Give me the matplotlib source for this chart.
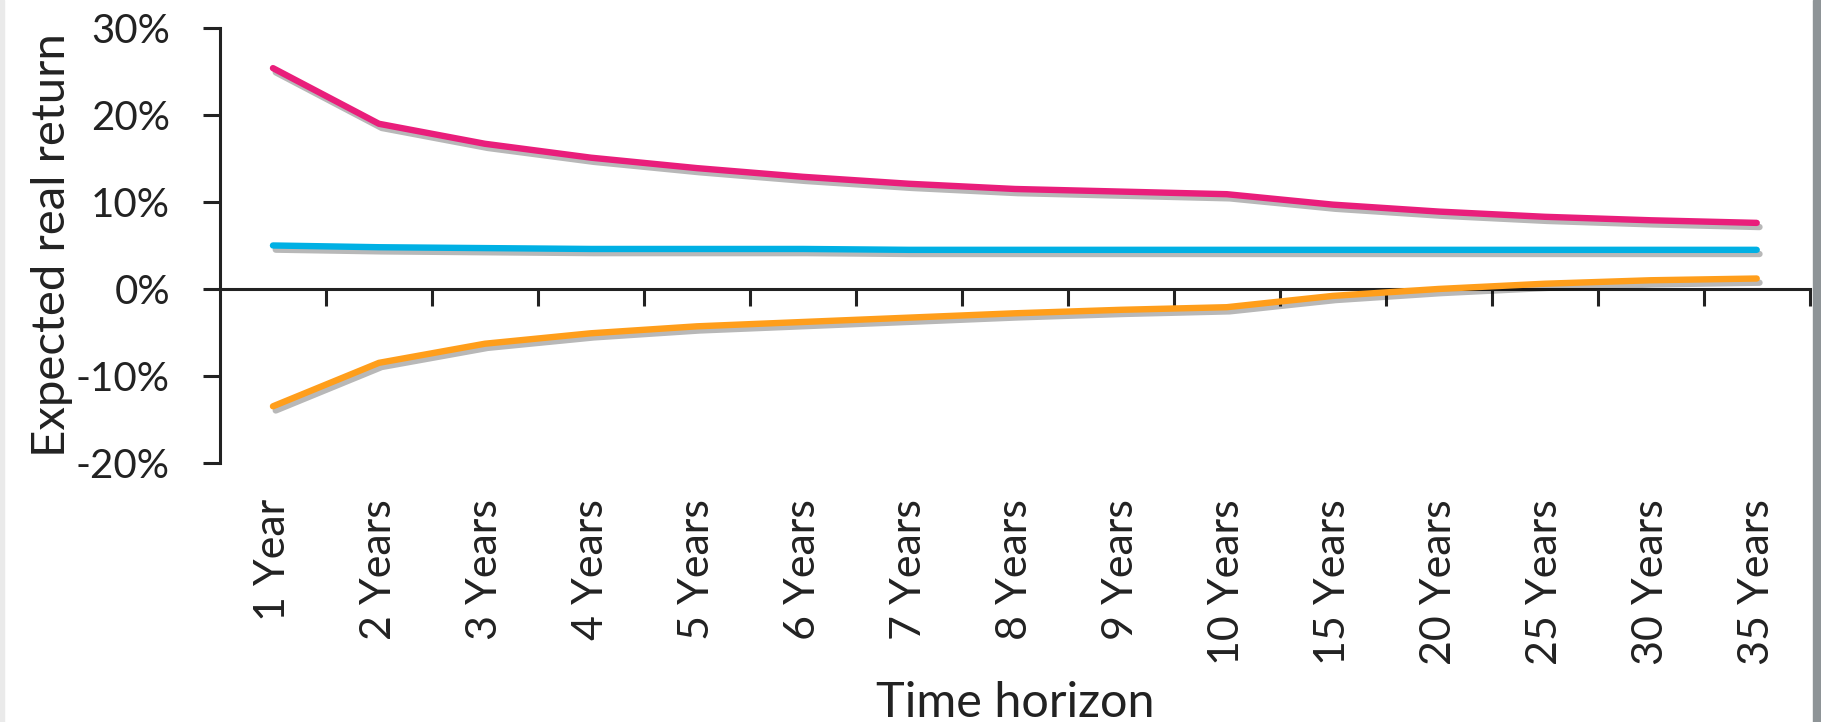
import numpy as np
import matplotlib.pyplot as plt
import matplotlib.patheffects as pe
from matplotlib.patches import Rectangle

plt.rcParams['font.family'] = ['Lato', 'DejaVu Sans']

horizons = ['1 Year', '2 Years', '3 Years', '4 Years', '5 Years', '6 Years', '7 Years',
            '8 Years', '9 Years', '10 Years', '15 Years', '20 Years', '25 Years',
            '30 Years', '35 Years']
upper = [25.4, 19.0, 16.7, 15.1, 13.9, 12.9, 12.1, 11.5, 11.2, 10.9, 9.7, 8.9, 8.3, 7.9, 7.6]
expected = [5.0, 4.8, 4.7, 4.6, 4.6, 4.6, 4.5, 4.5, 4.5, 4.5, 4.5, 4.5, 4.5, 4.5, 4.5]
lower = [-13.5, -8.5, -6.3, -5.1, -4.3, -3.8, -3.3, -2.8, -2.4, -2.1, -0.8, 0.0, 0.6, 1.0, 1.2]
colors = ['#E91E7B', '#00B0E4', '#FF9E1B']

x = np.arange(len(horizons))

fig = plt.figure(figsize=(18.21, 7.22), dpi=100)
ax = fig.add_axes([0.1208, 0.359, 0.873, 0.602])

shadow = [pe.SimpleLineShadow(offset=(2, -3), shadow_color='k', alpha=0.28), pe.Normal()]
for vals, c in zip([upper, expected, lower], colors):
    ax.plot(x, vals, color=c, lw=4.6, solid_capstyle='round', solid_joinstyle='round',
            path_effects=shadow, zorder=3)

ax.set_xlim(-0.5, len(horizons) - 0.5)
ax.set_ylim(-20, 30)
ax.set_yticks(np.arange(-20, 31, 10))
ax.set_yticklabels([f'{v}%' for v in range(-20, 31, 10)])
ax.tick_params(axis='y', direction='out', length=12, width=2.2, pad=24, labelsize=29,
               colors='#222222')

# category axis crosses at zero, tick marks between categories
ax.spines['bottom'].set_position(('data', 0))
ax.spines['top'].set_visible(False)
ax.spines['right'].set_visible(False)
for s in ['bottom', 'left']:
    ax.spines[s].set_linewidth(2.2)
    ax.spines[s].set_color('#222222')
ax.set_xticks(x + 0.5)
ax.tick_params(axis='x', direction='out', length=12, width=2.2, labelbottom=False,
               colors='#222222')

sec = ax.secondary_xaxis('bottom')
sec.set_xticks(x)
sec.set_xticklabels(horizons, rotation=90, fontsize=31, color='#222222')
sec.tick_params(length=0, pad=26)
sec.spines['bottom'].set_visible(False)
sec.set_xlabel('Time horizon', fontsize=35, color='#222222', labelpad=12)

ax.set_ylabel('Expected real return', fontsize=34, color='#222222', labelpad=2)

fig.patches.append(Rectangle((0.9957, 0), 0.0043, 1, transform=fig.transFigure,
                             color='#8E9497', zorder=-1))
fig.patches.append(Rectangle((0, 0), 0.002, 1, transform=fig.transFigure,
                             color='#EAEAEA', zorder=-1))

plt.savefig('out.png', dpi=100)
